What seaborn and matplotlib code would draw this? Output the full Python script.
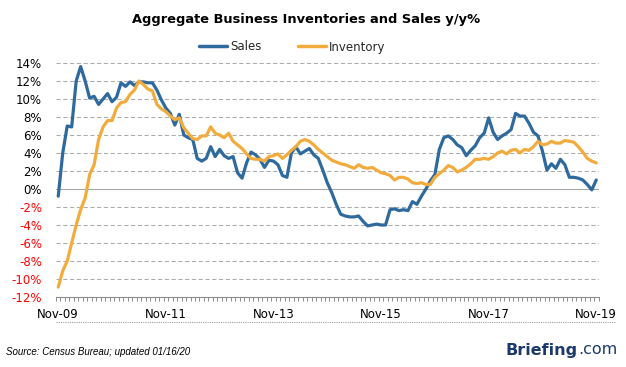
import numpy as np
import pandas as pd
import matplotlib
matplotlib.use("Agg")
import matplotlib.pyplot as plt
from matplotlib.lines import Line2D
import seaborn as sns

# ---- data (monthly, Nov-09 .. Nov-19) ----
sales = [
    -0.8, 4.0, 7.0, 6.9, 12.0, 13.6, 12.0, 10.1, 10.3, 9.4,
    10.0, 10.6, 9.7, 10.2, 11.8, 11.4, 11.9, 11.5, 11.9, 11.9,
    11.8, 11.8, 11.0, 9.9, 9.0, 8.4, 7.1, 8.3, 6.0, 5.7,
    5.5, 3.4, 3.1, 3.4, 4.7, 3.6, 4.4, 3.7, 3.4, 3.6,
    1.8, 1.2, 2.9, 4.1, 3.8, 3.3, 2.4, 3.2, 3.1, 2.7,
    1.5, 1.3, 4.0, 4.7, 3.9, 4.2, 4.5, 3.8, 3.4, 2.1,
    0.7, -0.4, -1.7, -2.8, -3.0, -3.1, -3.1, -3.0, -3.6, -4.1,
    -4.0, -3.9, -4.0, -4.0, -2.3, -2.2, -2.4, -2.3, -2.4, -1.4,
    -1.7, -0.8, 0.0, 0.9, 1.6, 4.4, 5.7, 5.9, 5.5, 4.9,
    4.6, 3.7, 4.3, 4.8, 5.7, 6.2, 7.9, 6.3, 5.5, 5.9,
    6.2, 6.6, 8.4, 8.1, 8.1, 7.3, 6.3, 5.9, 4.2, 2.1,
    2.8, 2.3, 3.3, 2.7, 1.3, 1.3, 1.2, 1.0, 0.5, -0.1,
    1.0,
]
inventory = [
    -10.9, -9.1, -8.0, -6.0, -4.0, -2.3, -1.0, 1.6, 2.7, 5.5,
    6.9, 7.6, 7.6, 9.0, 9.6, 9.7, 10.5, 11.0, 12.0, 11.6,
    11.1, 10.9, 9.4, 8.9, 8.6, 8.1, 7.7, 7.9, 6.8, 6.2,
    5.6, 5.5, 5.9, 5.9, 6.9, 6.2, 6.0, 5.7, 6.2, 5.3,
    4.9, 4.5, 3.9, 3.4, 3.3, 3.3, 3.1, 3.6, 3.7, 3.9,
    3.4, 3.8, 4.3, 4.7, 5.3, 5.5, 5.3, 4.9, 4.4, 4.0,
    3.6, 3.2, 3.0, 2.8, 2.7, 2.5, 2.3, 2.7, 2.4, 2.3,
    2.4, 2.1, 1.8, 1.7, 1.5, 1.0, 1.3, 1.3, 1.1, 0.7,
    0.6, 0.7, 0.5, 0.5, 1.3, 1.7, 2.1, 2.6, 2.4, 1.9,
    2.1, 2.4, 2.8, 3.3, 3.3, 3.4, 3.3, 3.6, 4.0, 4.2,
    3.9, 4.3, 4.4, 4.0, 4.4, 4.3, 4.7, 5.3, 4.9, 5.0,
    5.3, 5.1, 5.1, 5.4, 5.3, 5.2, 4.7, 4.1, 3.4, 3.1,
    2.9,
]
x_labels = ["Nov-09", "Nov-11", "Nov-13", "Nov-15", "Nov-17", "Nov-19"]
y_ticks = list(range(-12, 15, 2))
series_names = ["Sales", "Inventory"]
colors = ["#2E6A9E", "#F2AC3E"]

n = len(sales)
df = pd.DataFrame({
    "month": list(range(n)) * 2,
    "value": sales + inventory,
    "series": ["Sales"] * n + ["Inventory"] * n,
})

sns.set_theme(style="white")
plt.rcParams["font.family"] = ["DejaVu Sans"]

fig = plt.figure(figsize=(6.26, 3.67), dpi=100)
ax = fig.add_axes([56 / 626, 1 - 297 / 367, (598.5 - 56) / 626, (297 - 63) / 367])

sns.lineplot(data=df, x="month", y="value", hue="series", hue_order=series_names,
             palette=colors, linewidth=2.3, ax=ax, legend=False)

ax.set_xlim(-0.5, n - 0.5)
ax.set_ylim(-12, 14)
ax.set_xlabel("")
ax.set_ylabel("")

# y axis
ax.set_yticks(y_ticks)
ax.set_yticklabels([f"{v}%" for v in y_ticks], fontsize=8.5)
for lab, v in zip(ax.get_yticklabels(), y_ticks):
    lab.set_color("#FF0000" if v < 0 else "black")
ax.tick_params(axis="y", length=0, pad=10)
for v in y_ticks[1:]:
    if v == 0:
        ax.axhline(v, color="#A8A8A8", lw=0.8, ls="-", zorder=0)
    else:
        ax.axhline(v, color="#ABABAB", lw=0.75, ls=(0, (4, 2.5)), zorder=0)

# x axis
ax.set_xticks(list(range(0, n, 24)))
ax.set_xticklabels(x_labels, fontsize=8.5)
ax.set_xticks([k - 0.5 for k in range(n + 1)], minor=True)
ax.tick_params(axis="x", which="both", bottom=True)
ax.tick_params(axis="x", which="major", length=0, pad=8, colors="black")
ax.tick_params(axis="x", which="minor", length=3.0, width=0.7, color="#8C8C8C")

for s in ["top", "right", "left"]:
    ax.spines[s].set_visible(False)
ax.spines["bottom"].set_color("#8C8C8C")
ax.spines["bottom"].set_linewidth(0.8)

# legend
handles = [Line2D([0], [0], color=c, lw=2.5) for c in colors]
fig.legend(handles, series_names, loc="center", bbox_to_anchor=(292 / 626, 1 - 47 / 367),
           ncol=2, frameon=False, fontsize=8.5, handlelength=2.4, handletextpad=0.2,
           columnspacing=3.1)

# title
fig.text(306 / 626, 1 - 20 / 367, "Aggregate Business Inventories and Sales y/y%",
         ha="center", va="center", fontsize=9.4, fontweight="bold", color="black")

# separator line
fig.add_artist(Line2D([56 / 626, 615 / 626], [1 - 322 / 367] * 2, color="#A0A0A0",
                      lw=0.8, ls=(0, (1, 1))))

# footer
fig.text(6 / 626, 1 - 352 / 367, "Source: Census Bureau; updated 01/16/20",
         ha="left", va="center", fontsize=7.0, style="italic", color="black",
         family=["Liberation Sans", "DejaVu Sans"])
t1 = fig.text(506 / 626, 1 - 350 / 367, "Briefing", ha="left", va="center",
              fontsize=11.5, fontweight="bold", color="#1B3A6B")
fig.canvas.draw()
bb = t1.get_window_extent(fig.canvas.get_renderer())
fig.text(bb.x1 / fig.bbox.width, 1 - 350 / 367, ".com", ha="left", va="center",
         fontsize=11.5, color="#1B3A6B")

fig.savefig("out.png", dpi=100)
